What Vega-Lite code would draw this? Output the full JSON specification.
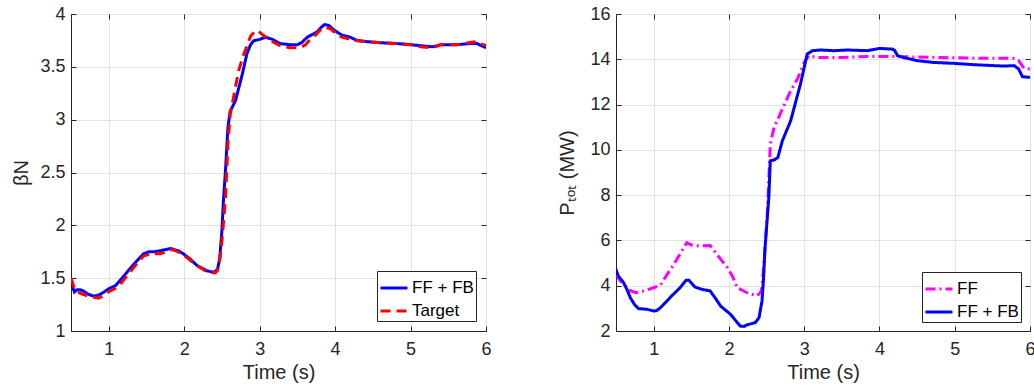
{
  "$schema": "https://vega.github.io/schema/vega-lite/v6.json",
  "padding": {"left": 11, "top": 4, "right": 0, "bottom": 0},
  "background": "white",
  "config": {
    "font": "Liberation Sans",
    "view": {"stroke": "#262626", "strokeWidth": 1},
    "concat": {"spacing": 65},
    "axis": {
      "domainColor": "#262626",
      "tickColor": "#262626",
      "labelColor": "#262626",
      "titleColor": "#262626",
      "labelFont": "Liberation Sans",
      "titleFont": "Liberation Sans",
      "labelFontSize": 18,
      "titleFontSize": 20,
      "titleFontWeight": "normal",
      "gridColor": "#e3e3e3",
      "gridWidth": 1,
      "tickSize": -5
    },
    "axisX": {"labelPadding": 14},
    "axisY": {"labelPadding": 11},
    "legend": {
      "labelFont": "Liberation Sans",
      "labelFontSize": 17,
      "labelColor": "#000000",
      "strokeColor": "#262626",
      "fillColor": "white",
      "padding": 2,
      "symbolType": "stroke",
      "symbolSize": 729,
      "symbolStrokeWidth": 3,
      "labelOffset": 3,
      "rowPadding": -6,
      "offset": 10,
      "orient": "bottom-right",
      "title": null
    }
  },
  "datasets": {
    "left": [
      {"t":0.50,"v":1.46,"s":"FF + FB"},{"t":0.53,"v":1.40,"s":"FF + FB"},{"t":0.545,"v":1.37,"s":"FF + FB"},{"t":0.58,"v":1.39,"s":"FF + FB"},{"t":0.62,"v":1.39,"s":"FF + FB"},{"t":0.66,"v":1.38,"s":"FF + FB"},{"t":0.72,"v":1.35,"s":"FF + FB"},{"t":0.80,"v":1.33,"s":"FF + FB"},{"t":0.87,"v":1.34,"s":"FF + FB"},{"t":0.94,"v":1.37,"s":"FF + FB"},{"t":1.00,"v":1.40,"s":"FF + FB"},{"t":1.09,"v":1.43,"s":"FF + FB"},{"t":1.20,"v":1.52,"s":"FF + FB"},{"t":1.33,"v":1.63,"s":"FF + FB"},{"t":1.46,"v":1.73,"s":"FF + FB"},{"t":1.53,"v":1.75,"s":"FF + FB"},{"t":1.60,"v":1.75,"s":"FF + FB"},{"t":1.68,"v":1.76,"s":"FF + FB"},{"t":1.82,"v":1.78,"s":"FF + FB"},{"t":1.92,"v":1.76,"s":"FF + FB"},{"t":1.99,"v":1.73,"s":"FF + FB"},{"t":2.08,"v":1.68,"s":"FF + FB"},{"t":2.17,"v":1.62,"s":"FF + FB"},{"t":2.30,"v":1.57,"s":"FF + FB"},{"t":2.39,"v":1.555,"s":"FF + FB"},{"t":2.44,"v":1.58,"s":"FF + FB"},{"t":2.47,"v":1.68,"s":"FF + FB"},{"t":2.50,"v":1.95,"s":"FF + FB"},{"t":2.52,"v":2.23,"s":"FF + FB"},{"t":2.55,"v":2.55,"s":"FF + FB"},{"t":2.58,"v":2.93,"s":"FF + FB"},{"t":2.61,"v":3.08,"s":"FF + FB"},{"t":2.68,"v":3.18,"s":"FF + FB"},{"t":2.77,"v":3.43,"s":"FF + FB"},{"t":2.83,"v":3.62,"s":"FF + FB"},{"t":2.88,"v":3.71,"s":"FF + FB"},{"t":2.92,"v":3.746,"s":"FF + FB"},{"t":3.00,"v":3.76,"s":"FF + FB"},{"t":3.08,"v":3.78,"s":"FF + FB"},{"t":3.17,"v":3.76,"s":"FF + FB"},{"t":3.27,"v":3.72,"s":"FF + FB"},{"t":3.40,"v":3.71,"s":"FF + FB"},{"t":3.50,"v":3.71,"s":"FF + FB"},{"t":3.56,"v":3.73,"s":"FF + FB"},{"t":3.63,"v":3.78,"s":"FF + FB"},{"t":3.76,"v":3.83,"s":"FF + FB"},{"t":3.81,"v":3.87,"s":"FF + FB"},{"t":3.86,"v":3.90,"s":"FF + FB"},{"t":3.92,"v":3.89,"s":"FF + FB"},{"t":3.98,"v":3.85,"s":"FF + FB"},{"t":4.09,"v":3.80,"s":"FF + FB"},{"t":4.20,"v":3.78,"s":"FF + FB"},{"t":4.29,"v":3.75,"s":"FF + FB"},{"t":4.40,"v":3.74,"s":"FF + FB"},{"t":4.56,"v":3.73,"s":"FF + FB"},{"t":4.82,"v":3.72,"s":"FF + FB"},{"t":5.00,"v":3.71,"s":"FF + FB"},{"t":5.13,"v":3.70,"s":"FF + FB"},{"t":5.29,"v":3.69,"s":"FF + FB"},{"t":5.36,"v":3.70,"s":"FF + FB"},{"t":5.40,"v":3.71,"s":"FF + FB"},{"t":5.62,"v":3.71,"s":"FF + FB"},{"t":5.79,"v":3.72,"s":"FF + FB"},{"t":5.88,"v":3.72,"s":"FF + FB"},{"t":5.94,"v":3.70,"s":"FF + FB"},{"t":6.00,"v":3.68,"s":"FF + FB"},
      {"t":0.50,"v":1.50,"s":"Target"},{"t":0.52,"v":1.46,"s":"Target"},{"t":0.54,"v":1.41,"s":"Target"},{"t":0.58,"v":1.37,"s":"Target"},{"t":0.65,"v":1.35,"s":"Target"},{"t":0.73,"v":1.33,"s":"Target"},{"t":0.80,"v":1.32,"s":"Target"},{"t":0.87,"v":1.31,"s":"Target"},{"t":0.94,"v":1.34,"s":"Target"},{"t":1.02,"v":1.38,"s":"Target"},{"t":1.08,"v":1.40,"s":"Target"},{"t":1.15,"v":1.44,"s":"Target"},{"t":1.24,"v":1.52,"s":"Target"},{"t":1.33,"v":1.60,"s":"Target"},{"t":1.40,"v":1.66,"s":"Target"},{"t":1.46,"v":1.71,"s":"Target"},{"t":1.55,"v":1.73,"s":"Target"},{"t":1.68,"v":1.73,"s":"Target"},{"t":1.76,"v":1.75,"s":"Target"},{"t":1.84,"v":1.77,"s":"Target"},{"t":1.92,"v":1.75,"s":"Target"},{"t":1.99,"v":1.72,"s":"Target"},{"t":2.08,"v":1.67,"s":"Target"},{"t":2.17,"v":1.62,"s":"Target"},{"t":2.30,"v":1.56,"s":"Target"},{"t":2.41,"v":1.55,"s":"Target"},{"t":2.44,"v":1.57,"s":"Target"},{"t":2.46,"v":1.62,"s":"Target"},{"t":2.48,"v":1.72,"s":"Target"},{"t":2.50,"v":1.85,"s":"Target"},{"t":2.53,"v":2.10,"s":"Target"},{"t":2.55,"v":2.29,"s":"Target"},{"t":2.58,"v":2.77,"s":"Target"},{"t":2.61,"v":3.05,"s":"Target"},{"t":2.67,"v":3.27,"s":"Target"},{"t":2.72,"v":3.46,"s":"Target"},{"t":2.79,"v":3.62,"s":"Target"},{"t":2.88,"v":3.79,"s":"Target"},{"t":2.94,"v":3.84,"s":"Target"},{"t":2.98,"v":3.84,"s":"Target"},{"t":3.03,"v":3.81,"s":"Target"},{"t":3.14,"v":3.75,"s":"Target"},{"t":3.27,"v":3.70,"s":"Target"},{"t":3.40,"v":3.68,"s":"Target"},{"t":3.50,"v":3.68,"s":"Target"},{"t":3.56,"v":3.69,"s":"Target"},{"t":3.61,"v":3.71,"s":"Target"},{"t":3.67,"v":3.76,"s":"Target"},{"t":3.74,"v":3.80,"s":"Target"},{"t":3.83,"v":3.87,"s":"Target"},{"t":3.88,"v":3.87,"s":"Target"},{"t":3.94,"v":3.86,"s":"Target"},{"t":4.05,"v":3.79,"s":"Target"},{"t":4.15,"v":3.77,"s":"Target"},{"t":4.25,"v":3.75,"s":"Target"},{"t":4.40,"v":3.74,"s":"Target"},{"t":4.56,"v":3.73,"s":"Target"},{"t":4.82,"v":3.72,"s":"Target"},{"t":5.00,"v":3.71,"s":"Target"},{"t":5.13,"v":3.69,"s":"Target"},{"t":5.29,"v":3.68,"s":"Target"},{"t":5.40,"v":3.71,"s":"Target"},{"t":5.62,"v":3.71,"s":"Target"},{"t":5.79,"v":3.73,"s":"Target"},{"t":5.88,"v":3.74,"s":"Target"},{"t":5.92,"v":3.72,"s":"Target"},{"t":6.00,"v":3.70,"s":"Target"}
    ],
    "right": [
      {"t":0.50,"v":4.50,"s":"FF"},{"t":0.55,"v":4.25,"s":"FF"},{"t":0.60,"v":4.06,"s":"FF"},{"t":0.68,"v":3.80,"s":"FF"},{"t":0.76,"v":3.69,"s":"FF"},{"t":0.87,"v":3.77,"s":"FF"},{"t":1.00,"v":3.91,"s":"FF"},{"t":1.09,"v":4.03,"s":"FF"},{"t":1.18,"v":4.50,"s":"FF"},{"t":1.27,"v":4.95,"s":"FF"},{"t":1.36,"v":5.45,"s":"FF"},{"t":1.44,"v":5.90,"s":"FF"},{"t":1.50,"v":5.80,"s":"FF"},{"t":1.58,"v":5.76,"s":"FF"},{"t":1.75,"v":5.78,"s":"FF"},{"t":1.86,"v":5.30,"s":"FF"},{"t":1.98,"v":4.80,"s":"FF"},{"t":2.05,"v":4.40,"s":"FF"},{"t":2.11,"v":3.91,"s":"FF"},{"t":2.24,"v":3.69,"s":"FF"},{"t":2.37,"v":3.55,"s":"FF"},{"t":2.42,"v":3.70,"s":"FF"},{"t":2.44,"v":3.91,"s":"FF"},{"t":2.48,"v":5.68,"s":"FF"},{"t":2.51,"v":7.15,"s":"FF"},{"t":2.55,"v":10.25,"s":"FF"},{"t":2.60,"v":10.99,"s":"FF"},{"t":2.68,"v":11.58,"s":"FF"},{"t":2.82,"v":12.61,"s":"FF"},{"t":2.91,"v":13.13,"s":"FF"},{"t":3.00,"v":13.86,"s":"FF"},{"t":3.06,"v":14.16,"s":"FF"},{"t":3.17,"v":14.08,"s":"FF"},{"t":3.48,"v":14.08,"s":"FF"},{"t":3.93,"v":14.13,"s":"FF"},{"t":4.37,"v":14.11,"s":"FF"},{"t":4.81,"v":14.08,"s":"FF"},{"t":5.26,"v":14.05,"s":"FF"},{"t":5.79,"v":14.04,"s":"FF"},{"t":5.85,"v":13.94,"s":"FF"},{"t":5.92,"v":13.60,"s":"FF"},{"t":6.00,"v":13.57,"s":"FF"},
      {"t":0.50,"v":4.55,"s":"FF + FB"},{"t":0.51,"v":4.62,"s":"FF + FB"},{"t":0.53,"v":4.43,"s":"FF + FB"},{"t":0.60,"v":4.14,"s":"FF + FB"},{"t":0.65,"v":3.80,"s":"FF + FB"},{"t":0.69,"v":3.47,"s":"FF + FB"},{"t":0.75,"v":3.15,"s":"FF + FB"},{"t":0.80,"v":2.99,"s":"FF + FB"},{"t":0.91,"v":2.96,"s":"FF + FB"},{"t":0.96,"v":2.92,"s":"FF + FB"},{"t":1.00,"v":2.88,"s":"FF + FB"},{"t":1.04,"v":2.90,"s":"FF + FB"},{"t":1.09,"v":3.03,"s":"FF + FB"},{"t":1.17,"v":3.30,"s":"FF + FB"},{"t":1.24,"v":3.55,"s":"FF + FB"},{"t":1.35,"v":3.91,"s":"FF + FB"},{"t":1.43,"v":4.24,"s":"FF + FB"},{"t":1.47,"v":4.24,"s":"FF + FB"},{"t":1.55,"v":3.94,"s":"FF + FB"},{"t":1.64,"v":3.84,"s":"FF + FB"},{"t":1.75,"v":3.77,"s":"FF + FB"},{"t":1.82,"v":3.45,"s":"FF + FB"},{"t":1.89,"v":3.10,"s":"FF + FB"},{"t":2.02,"v":2.74,"s":"FF + FB"},{"t":2.08,"v":2.50,"s":"FF + FB"},{"t":2.15,"v":2.22,"s":"FF + FB"},{"t":2.20,"v":2.20,"s":"FF + FB"},{"t":2.24,"v":2.27,"s":"FF + FB"},{"t":2.35,"v":2.37,"s":"FF + FB"},{"t":2.40,"v":2.59,"s":"FF + FB"},{"t":2.44,"v":3.33,"s":"FF + FB"},{"t":2.46,"v":4.30,"s":"FF + FB"},{"t":2.48,"v":5.68,"s":"FF + FB"},{"t":2.53,"v":7.89,"s":"FF + FB"},{"t":2.55,"v":9.52,"s":"FF + FB"},{"t":2.60,"v":9.55,"s":"FF + FB"},{"t":2.65,"v":9.66,"s":"FF + FB"},{"t":2.71,"v":10.40,"s":"FF + FB"},{"t":2.82,"v":11.28,"s":"FF + FB"},{"t":2.95,"v":12.90,"s":"FF + FB"},{"t":3.00,"v":13.64,"s":"FF + FB"},{"t":3.04,"v":14.23,"s":"FF + FB"},{"t":3.11,"v":14.38,"s":"FF + FB"},{"t":3.22,"v":14.41,"s":"FF + FB"},{"t":3.39,"v":14.38,"s":"FF + FB"},{"t":3.57,"v":14.41,"s":"FF + FB"},{"t":3.84,"v":14.38,"s":"FF + FB"},{"t":4.00,"v":14.48,"s":"FF + FB"},{"t":4.17,"v":14.45,"s":"FF + FB"},{"t":4.20,"v":14.40,"s":"FF + FB"},{"t":4.24,"v":14.16,"s":"FF + FB"},{"t":4.32,"v":14.08,"s":"FF + FB"},{"t":4.50,"v":13.94,"s":"FF + FB"},{"t":4.72,"v":13.86,"s":"FF + FB"},{"t":4.99,"v":13.82,"s":"FF + FB"},{"t":5.26,"v":13.76,"s":"FF + FB"},{"t":5.52,"v":13.72,"s":"FF + FB"},{"t":5.65,"v":13.70,"s":"FF + FB"},{"t":5.79,"v":13.72,"s":"FF + FB"},{"t":5.85,"v":13.57,"s":"FF + FB"},{"t":5.90,"v":13.23,"s":"FF + FB"},{"t":6.00,"v":13.20,"s":"FF + FB"}
    ]
  },
  "resolve": {"scale": {"color": "independent", "strokeDash": "independent"}},
  "hconcat": [
    {
      "width": 415,
      "height": 317,
      "data": {"name": "left"},
      "layer": [
        {
          "mark": {"type": "line", "strokeWidth": 3, "clip": true},
          "encoding": {
            "x": {"field": "t", "type": "quantitative", "scale": {"domain": [0.5, 6], "nice": false, "zero": false},
                  "axis": {"values": [1, 2, 3, 4, 5, 6], "title": "Time (s)", "titlePadding": 4, "format": "~g", "labelFlush": false}},
            "y": {"field": "v", "type": "quantitative", "scale": {"domain": [1, 4], "nice": false, "zero": false},
                  "axis": {"values": [1, 1.5, 2, 2.5, 3, 3.5, 4], "title": "βN", "titlePadding": 8, "format": "~g"}},
            "color": {"field": "s", "type": "nominal", "scale": {"domain": ["FF + FB", "Target"], "range": ["#0000ff", "#ff0000"]},
                      "legend": {"orient": "bottom-right", "offset": 10}},
            "strokeDash": {"field": "s", "type": "nominal", "scale": {"domain": ["FF + FB", "Target"], "range": [[1, 0], [10, 6]]}}
          }
        },
        {
          "mark": {"type": "line", "opacity": 0},
          "encoding": {
            "x": {"field": "t", "type": "quantitative", "axis": {"orient": "top", "values": [1, 2, 3, 4, 5, 6], "labels": false, "title": null, "grid": false, "domain": false}},
            "y": {"field": "v", "type": "quantitative", "axis": {"orient": "right", "values": [1, 1.5, 2, 2.5, 3, 3.5, 4], "labels": false, "title": null, "grid": false, "domain": false}},
            "detail": {"field": "s"}
          }
        }
      ],
      "resolve": {"axis": {"x": "independent", "y": "independent"}}
    },
    {
      "width": 414,
      "height": 317,
      "data": {"name": "right"},
      "layer": [
        {
          "mark": {"type": "line", "strokeWidth": 3, "clip": true},
          "encoding": {
            "x": {"field": "t", "type": "quantitative", "scale": {"domain": [0.5, 6], "nice": false, "zero": false},
                  "axis": {"values": [1, 2, 3, 4, 5, 6], "title": "Time (s)", "titlePadding": 4, "format": "~g", "labelFlush": false}},
            "y": {"field": "v", "type": "quantitative", "scale": {"domain": [2, 16], "nice": false, "zero": false},
                  "axis": {"values": [2, 4, 6, 8, 10, 12, 14, 16], "title": "Pₜₒₜ (MW)", "titlePadding": 12, "format": "~g"}},
            "color": {"field": "s", "type": "nominal", "scale": {"domain": ["FF", "FF + FB"], "range": ["#ff00ff", "#0000ff"]},
                      "legend": {"orient": "bottom-right", "offset": 9}},
            "strokeDash": {"field": "s", "type": "nominal", "scale": {"domain": ["FF", "FF + FB"], "range": [[10, 4, 2, 4], [1, 0]]}}
          }
        },
        {
          "mark": {"type": "line", "opacity": 0},
          "encoding": {
            "x": {"field": "t", "type": "quantitative", "axis": {"orient": "top", "values": [1, 2, 3, 4, 5, 6], "labels": false, "title": null, "grid": false, "domain": false}},
            "y": {"field": "v", "type": "quantitative", "axis": {"orient": "right", "values": [2, 4, 6, 8, 10, 12, 14, 16], "labels": false, "title": null, "grid": false, "domain": false}},
            "detail": {"field": "s"}
          }
        }
      ],
      "resolve": {"axis": {"x": "independent", "y": "independent"}}
    }
  ]
}
